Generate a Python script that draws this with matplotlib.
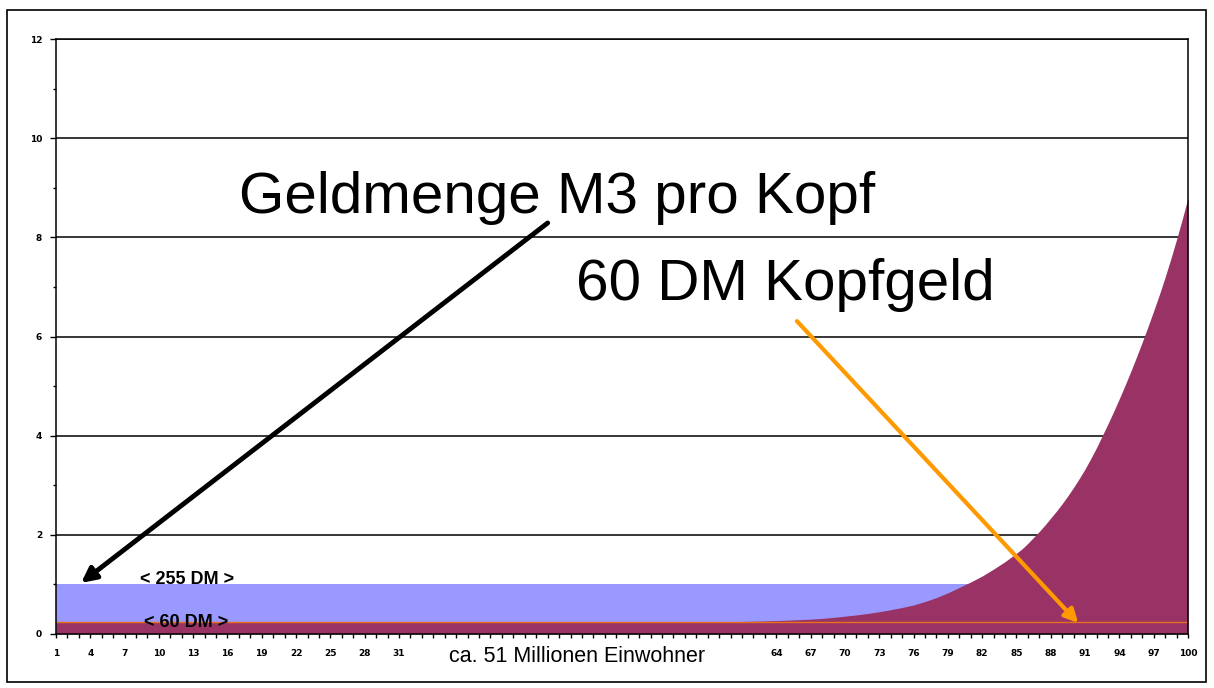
import numpy as np
import matplotlib.pyplot as plt
from matplotlib.patches import Rectangle

# Bevölkerung in 100 gleich großen Gruppen (je ca. 510.000 Einwohner)
gruppen = np.arange(1, 101)

# Geldmenge M3 pro Kopf (Einheit: 255 DM) und Kopfgeld 60 DM
m3_pro_kopf = 1.0
kopfgeld = 0.235

# Geldvermögen je Gruppe, aufsteigend sortiert (im steilen Teil in halben Schritten)
kurve_x = list(range(1, 86)) + [85.5, 86, 86.5, 87, 87.5, 88, 88.5, 89, 89.5, 90,
                                90.5, 91, 91.5, 92, 92.5, 93, 93.5, 94, 94.5, 95,
                                95.5, 96, 96.5, 97, 97.5, 98, 98.5, 99, 99.5, 100]
kurve_y = [0.235] * 55 + [
    0.237, 0.239, 0.242, 0.245, 0.249, 0.253, 0.258, 0.264, 0.271, 0.279,
    0.29, 0.30, 0.315, 0.335, 0.36, 0.385, 0.415, 0.45, 0.49, 0.535,
    0.585, 0.655, 0.735, 0.83, 0.94, 1.05, 1.17, 1.31, 1.46, 1.63,
    1.72, 1.83, 1.95, 2.07, 2.20, 2.34, 2.48, 2.63, 2.79, 2.96,
    3.14, 3.33, 3.54, 3.76, 4.00, 4.24, 4.49, 4.75, 5.02, 5.30,
    5.59, 5.89, 6.20, 6.52, 6.85, 7.20, 7.57, 7.96, 8.37, 8.80,
]

xtick_labels = [str(v) if (v <= 31 or v >= 64) else "" for v in range(1, 101, 3)]
yticks = [0, 2, 4, 6, 8, 10, 12]

blau = "#9999FF"
weinrot = "#993366"
orange = "#FF9900"

fig = plt.figure(figsize=(12.14, 6.88), dpi=100)
ax = fig.add_axes([0.0461, 0.0785, 0.9325, 0.8648])

# Rahmen um die ganze Grafik
fig.add_artist(Rectangle((0.006, 0.0087), 0.9875, 0.9768, transform=fig.transFigure,
                         fill=False, edgecolor="black", lw=1.2))

ax.fill_between(gruppen, 0, m3_pro_kopf, color=blau, lw=0, zorder=1)
ax.fill_between(kurve_x, 0, kurve_y, color=weinrot, lw=0, zorder=2)
ax.plot([1, 100], [kopfgeld, kopfgeld], color="#E8701A", lw=1.0, zorder=3)

ax.set_xlim(1, 100)
ax.set_ylim(0, 12)

for y in yticks[1:]:
    ax.axhline(y, color="black", lw=1.1, zorder=0.5)

for s in ax.spines.values():
    s.set_color("black")
    s.set_linewidth(1.1)
    s.set_zorder(4)

ax.set_xticks(range(1, 101, 3))
ax.set_xticklabels(xtick_labels)
ax.set_xticks(range(1, 101), minor=True)
ax.set_yticks(yticks)
ax.set_yticks(range(1, 12, 2), minor=True)
ax.tick_params(axis="both", which="both", direction="out", color="black",
               width=1.0, labelsize=6.5)
ax.tick_params(axis="x", which="both", length=3, pad=8)
ax.tick_params(axis="y", which="major", length=4, pad=6)
ax.tick_params(axis="y", which="minor", length=2)
for lbl in ax.get_xticklabels() + ax.get_yticklabels():
    lbl.set_fontweight("bold")

ax.text(46.6, -0.24, "ca. 51 Millionen Einwohner", ha="center", va="top",
        fontsize=15.5, family="Liberation Sans")

ax.text(12.5, 1.09, "< 255 DM >", ha="center", va="center", fontsize=13,
        fontweight="bold", family="Liberation Sans", zorder=5)
ax.text(12.4, 0.24, "< 60 DM >", ha="center", va="center", fontsize=13,
        fontweight="bold", family="Liberation Sans", zorder=5)

ax.text(17.0, 8.49, "Geldmenge M3 pro Kopf", ha="left", va="baseline",
        fontsize=42, family="Liberation Sans", zorder=5)
ax.text(46.5, 6.73, "60 DM Kopfgeld", ha="left", va="baseline",
        fontsize=42, family="Liberation Sans", zorder=5)

ax.annotate("", xy=(3.2, 1.03), xytext=(44.0, 8.29),
            arrowprops=dict(arrowstyle="-|>", color="black", lw=3.5,
                            mutation_scale=22, shrinkA=0, shrinkB=0), zorder=6)
ax.annotate("", xy=(90.4, 0.22), xytext=(65.8, 6.31),
            arrowprops=dict(arrowstyle="-|>", color=orange, lw=3.0,
                            mutation_scale=20, shrinkA=0, shrinkB=0), zorder=6)

fig.savefig("out.png", dpi=100)
